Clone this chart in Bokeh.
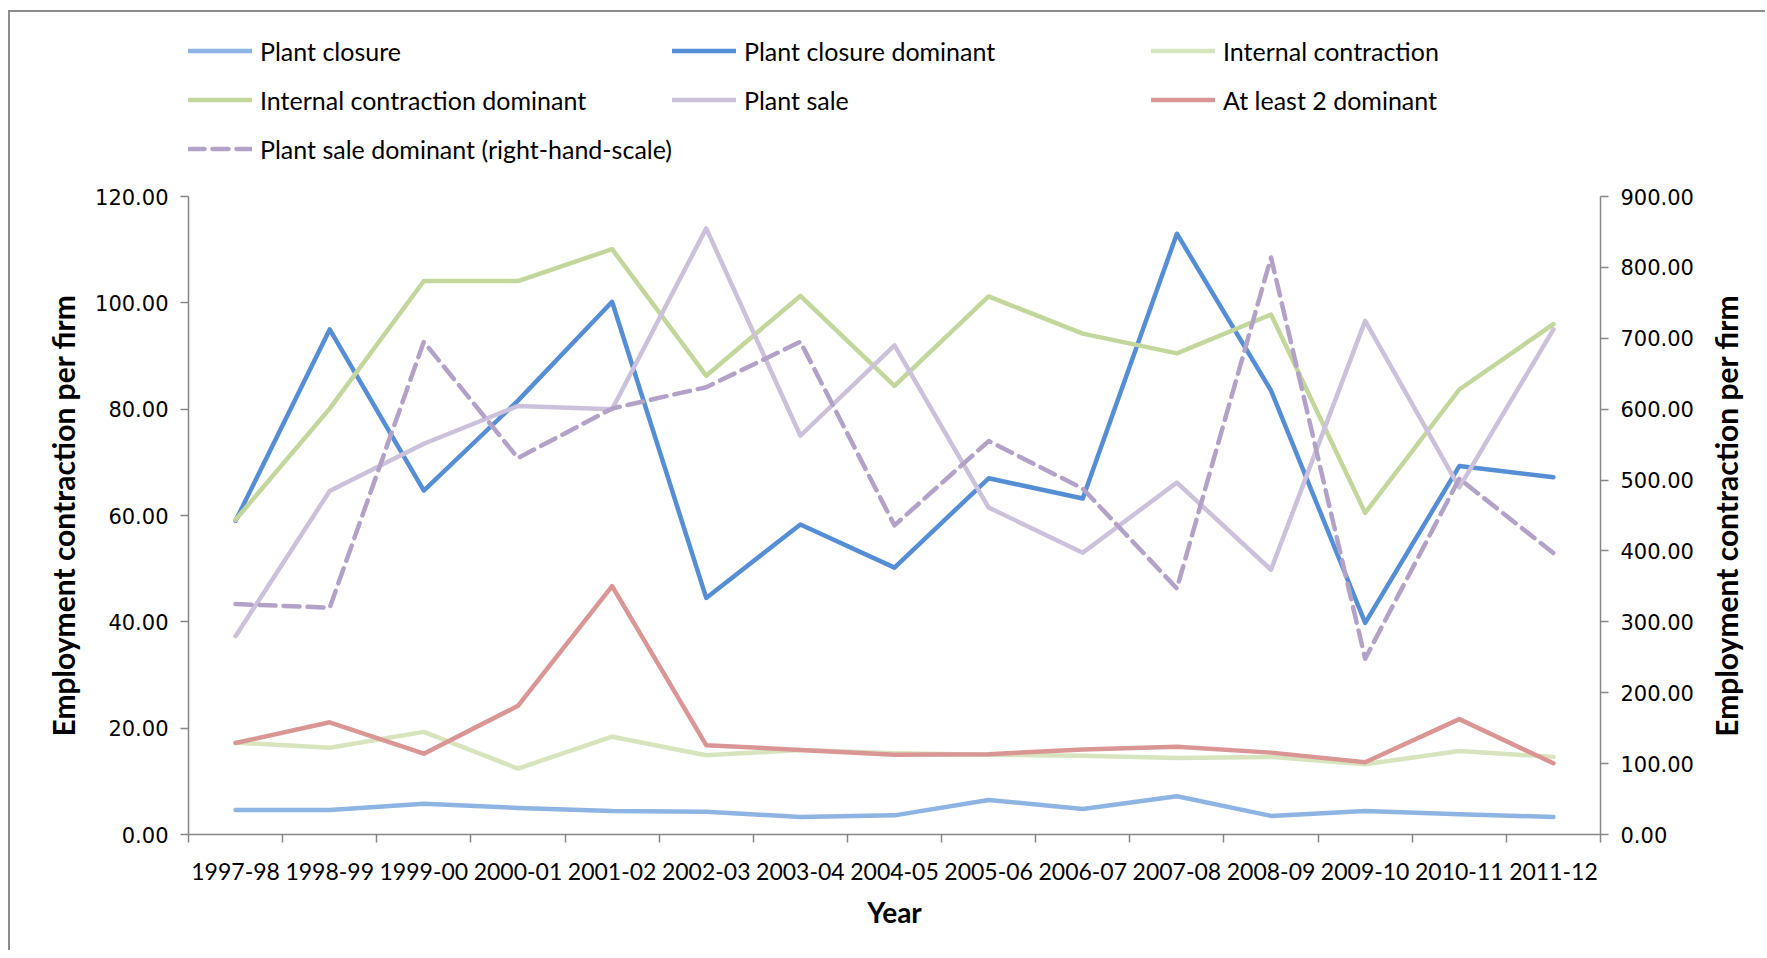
from bokeh.plotting import figure
from bokeh.layouts import column
from bokeh.models import (Range1d, LinearAxis, FixedTicker, Legend, LegendItem,
                          NumeralTickFormatter)
from bokeh.embed import file_html
from bokeh.resources import INLINE
import math

years = ["1997-98", "1998-99", "1999-00", "2000-01", "2001-02", "2002-03", "2003-04",
         "2004-05", "2005-06", "2006-07", "2007-08", "2008-09", "2009-10", "2010-11", "2011-12"]

plant_closure = [4.6, 4.6, 5.8, 5.0, 4.4, 4.3, 3.3, 3.6, 6.5, 4.8, 7.2, 3.5, 4.4, 3.8, 3.3]
plant_closure_dominant = [59.0, 95.0, 64.7, 81.6, 100.2, 44.5, 58.3, 50.2, 67.0, 63.2,
                          113.0, 83.5, 39.8, 69.3, 67.2]
internal_contraction = [17.3, 16.3, 19.3, 12.4, 18.4, 14.9, 15.9, 15.3, 15.0, 14.8,
                        14.4, 14.6, 13.2, 15.7, 14.6]
internal_contraction_dominant = [59.2, 80.1, 104.1, 104.1, 110.1, 86.3, 101.3, 84.4, 101.2,
                                 94.2, 90.5, 97.8, 60.5, 83.7, 96.0]
plant_sale = [37.3, 64.6, 73.5, 80.6, 80.0, 114.0, 75.0, 92.0, 61.5, 53.0, 66.2, 49.8,
              96.6, 65.3, 95.0]
at_least_2_dominant = [17.2, 21.1, 15.2, 24.2, 46.7, 16.8, 15.9, 15.0, 15.1, 16.0, 16.5,
                       15.4, 13.6, 21.7, 13.4]
plant_sale_dominant = [325.0, 320.0, 695.0, 531.0, 601.0, 631.0, 695.0, 436.0, 555.0,
                       488.0, 347.0, 814.0, 248.0, 502.0, 397.0]

left_ticks = [0, 20, 40, 60, 80, 100, 120]
right_ticks = [0, 100, 200, 300, 400, 500, 600, 700, 800, 900]

x = list(range(1, len(years) + 1))

LABEL_FONT = "Lato"
TICK_FONT = "DejaVu Sans"
AXIS_COLOR = "#868686"
Y_TITLE = "Employment contraction per firm"

W = 1755
LEG_H = 170
MAIN_H = 768

p = figure(width=W, height=MAIN_H, output_backend="svg", toolbar_location=None,
           x_range=Range1d(0.5, len(years) + 0.5), y_range=Range1d(0, 120),
           min_border_left=178, min_border_right=162, min_border_top=14,
           min_border_bottom=116)
p.xgrid.visible = False
p.ygrid.visible = False
p.outline_line_color = None
p.background_fill_color = "white"
p.border_fill_color = "white"

# x axis
xa = p.xaxis[0]
xa.ticker = FixedTicker(ticks=x, minor_ticks=[i + 0.5 for i in range(len(years) + 1)])
xa.major_label_overrides = {xi: yr for xi, yr in zip(x, years)}
xa.major_tick_out = 0
xa.major_tick_in = 0
xa.minor_tick_out = 8
xa.minor_tick_in = 0
xa.minor_tick_line_color = AXIS_COLOR
xa.minor_tick_line_width = 1.5
xa.axis_line_color = AXIS_COLOR
xa.axis_line_width = 1.5
xa.major_label_standoff = 20
xa.major_label_text_font = LABEL_FONT
xa.major_label_text_font_size = "23px"
xa.major_label_text_color = "black"
xa.axis_label = "Year"
xa.axis_label_text_font = LABEL_FONT
xa.axis_label_text_font_style = "bold"
xa.axis_label_text_font_size = "28px"
xa.axis_label_text_color = "black"
xa.axis_label_standoff = 12

# left axis
ya = p.yaxis[0]
ya.ticker = FixedTicker(ticks=left_ticks)
ya.formatter = NumeralTickFormatter(format="0.00")
ya.major_tick_out = 8
ya.major_tick_in = 0
ya.minor_tick_out = 0
ya.minor_tick_in = 0
ya.major_tick_line_color = AXIS_COLOR
ya.major_tick_line_width = 1.5
ya.axis_line_color = AXIS_COLOR
ya.axis_line_width = 1.5
ya.major_label_standoff = 12
ya.major_label_text_font = TICK_FONT
ya.major_label_text_font_size = "21px"
ya.major_label_text_color = "black"
ya.axis_label = Y_TITLE
ya.axis_label_text_font = LABEL_FONT
ya.axis_label_text_font_style = "bold"
ya.axis_label_text_font_size = "30px"
ya.axis_label_text_color = "black"
ya.axis_label_standoff = 11

# right axis (ticks and tick labels)
p.extra_y_ranges = {"right": Range1d(0, 900)}
ra = LinearAxis(y_range_name="right", ticker=FixedTicker(ticks=right_ticks),
                formatter=NumeralTickFormatter(format="0.00"))
ra.major_tick_out = 8
ra.major_tick_in = 0
ra.minor_tick_out = 0
ra.minor_tick_in = 0
ra.major_tick_line_color = AXIS_COLOR
ra.major_tick_line_width = 1.5
ra.axis_line_color = AXIS_COLOR
ra.axis_line_width = 1.5
ra.major_label_standoff = 12
ra.major_label_text_font = TICK_FONT
ra.major_label_text_font_size = "21px"
ra.major_label_text_color = "black"
p.add_layout(ra, "right")

# right-hand title, drawn as the single rotated label of a title-only axis;
# the rotated text starts at its anchor, so the anchor sits below the middle
TITLE_ANCHOR = 138
rt = LinearAxis(y_range_name="right", ticker=FixedTicker(ticks=[TITLE_ANCHOR]))
rt.major_label_overrides = {TITLE_ANCHOR: Y_TITLE}
rt.major_label_orientation = math.pi / 2
rt.axis_line_color = None
rt.major_tick_line_color = None
rt.minor_tick_line_color = None
rt.major_tick_out = 0
rt.major_tick_in = 0
rt.minor_tick_out = 0
rt.minor_tick_in = 0
rt.major_label_standoff = 30
rt.major_label_text_font = LABEL_FONT
rt.major_label_text_font_style = "bold"
rt.major_label_text_font_size = "30px"
rt.major_label_text_color = "black"
p.add_layout(rt, "right")

series = [
    ("Plant closure", plant_closure, "#8DB4E2", None, "default"),
    ("Plant closure dominant", plant_closure_dominant, "#558ED5", None, "default"),
    ("Internal contraction", internal_contraction, "#D7E4BD", None, "default"),
    ("Internal contraction dominant", internal_contraction_dominant, "#C3D69B", None, "default"),
    ("Plant sale", plant_sale, "#CCC1DA", None, "default"),
    ("At least 2 dominant", at_least_2_dominant, "#D99694", None, "default"),
    ("Plant sale dominant (right-hand-scale)", plant_sale_dominant, "#B3A2C7", "16 8", "right"),
]

# legend figure: its ranges keep the proxy lines out of view, only the legend shows
lf = figure(width=W, height=LEG_H, output_backend="svg", toolbar_location=None,
            x_range=Range1d(-3, -2), y_range=Range1d(-3, -2), min_border=0,
            x_axis_location=None, y_axis_location=None)
lf.xgrid.visible = False
lf.ygrid.visible = False
lf.outline_line_color = None
lf.background_fill_color = "white"
lf.border_fill_color = "white"

items = []
for name, vals, color, dash, rng in series:
    kw = dict(line_color=color, line_width=4.5, line_join="round", line_cap="round")
    if dash:
        kw["line_dash"] = dash
    p.line(x, vals, y_range_name=rng, **kw)
    proxy = lf.line(x, vals, **kw)
    items.append(LegendItem(label=name, renderers=[proxy]))

legend = Legend(items=items, ncols=3, orientation="horizontal", location=(0, 9),
                spacing=0, padding=0, margin=0, label_width=407, label_height=49,
                glyph_height=49, glyph_width=64, label_standoff=8,
                border_line_color=None, background_fill_alpha=0,
                label_text_font=LABEL_FONT, label_text_font_size="25px",
                label_text_color="black")
lf.add_layout(legend)

layout = column(lf, p, spacing=0)
layout.styles = {"margin-left": "8px", "margin-top": "10px",
                 "border-left": "2px solid #8c8c8c", "border-top": "2px solid #8c8c8c"}

open("out.html", "w").write(file_html(layout, INLINE))
